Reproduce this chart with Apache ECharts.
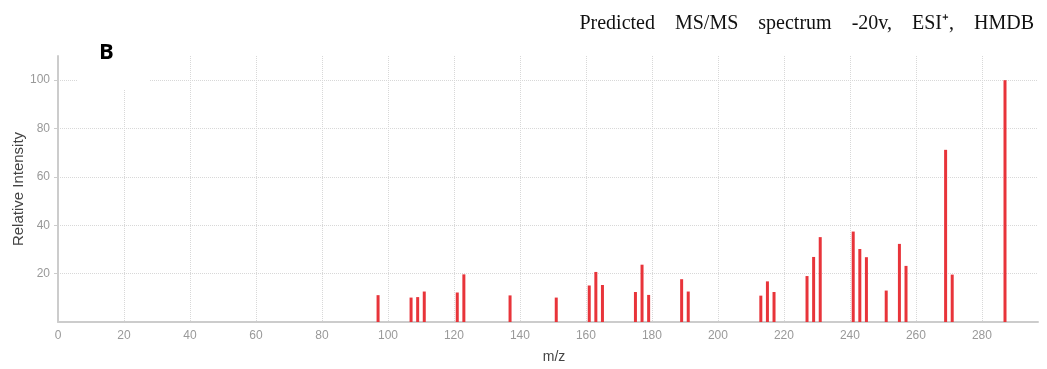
<!DOCTYPE html>
<html>
<head>
<meta charset="utf-8">
<script src="https://cdn.jsdelivr.net/npm/echarts@6/dist/echarts.min.js"></script>
<style>
html,body{margin:0;padding:0;background:#fff;}
#chart{width:1047px;height:369px;}
</style>
</head>
<body>
<div id="chart"></div>
<script>
const mz = [97, 107, 109, 111, 121, 123, 137, 151, 161, 163, 165, 175, 177, 179, 189, 191,
            213, 215, 217, 227, 229, 231, 241, 243, 245, 251, 255, 257, 269, 271, 287];
const intensity = [11.1, 10.1, 10.3, 12.6, 12.2, 19.7, 11.0, 10.1, 15.1, 20.7, 15.3, 12.4, 23.7, 11.2, 17.7, 12.6,
                   10.9, 16.8, 12.4, 19.0, 26.9, 35.1, 37.4, 30.2, 26.8, 13.0, 32.3, 23.2, 71.2, 19.6, 100];
const titleText = 'Predicted    MS/MS    spectrum    -20v,    ESI\u207A,    HMDB';
const panelLabel = 'B';
const xName = 'm/z';
const yName = 'Relative Intensity';

const chart = echarts.init(document.getElementById('chart'), null, {renderer: 'canvas'});
chart.setOption({
  animation: false,
  backgroundColor: '#fff',
  title: [{
    text: titleText,
    right: 8, top: 9,
    textStyle: {fontFamily: 'Liberation Serif', fontSize: 20, fontWeight: 'normal', color: '#111'}
  }],
  graphic: [
    {type: 'rect', z: 100, left: 78, top: 30, shape: {width: 72, height: 60}, style: {fill: '#fff'}},
    {type: 'text', z: 101, left: 99, top: 42, style: {text: panelLabel, font: 'bold 22px "Open Sans", "DejaVu Sans", sans-serif', fill: '#000'}}
  ],
  grid: {left: 58, right: 9, top: 56, bottom: 47, containLabel: false, outerBoundsMode: 'none'},
  xAxis: {
    type: 'value', min: 0, max: 297, interval: 20,
    name: xName, nameLocation: 'middle', nameGap: 28, nameMoveOverlap: false,
    nameTextStyle: {color: '#444', fontSize: 14, fontFamily: 'Liberation Sans', padding: [0, 0, 0, 12]},
    axisLine: {show: true, lineStyle: {color: '#ccc', width: 2}},
    axisTick: {show: false},
    axisLabel: {color: '#999', fontSize: 12, fontFamily: 'Liberation Sans', margin: 8, showMaxLabel: false},
    splitLine: {show: true, showMinLine: false, showMaxLine: false, lineStyle: {color: '#d8d8d8', type: 'dotted', width: 1}}
  },
  yAxis: {
    type: 'value', min: 0, max: 110, interval: 20,
    name: yName, nameLocation: 'middle', nameGap: 32, nameMoveOverlap: false,
    nameTextStyle: {color: '#444', fontSize: 15, fontFamily: 'Liberation Sans'},
    axisLine: {show: true, lineStyle: {color: '#ccc', width: 2}},
    axisTick: {show: true, length: 4, lineStyle: {color: '#ccc'}},
    axisLabel: {color: '#999', fontSize: 12, fontFamily: 'Liberation Sans', margin: 8, showMinLabel: false, showMaxLabel: false},
    splitLine: {show: true, showMinLine: false, showMaxLine: false, lineStyle: {color: '#d8d8d8', type: 'dotted', width: 1}}
  },
  series: [{
    type: 'bar',
    barWidth: 3,
    data: mz.map((m, i) => [m, intensity[i]]),
    itemStyle: {color: '#e8343a'},
    emphasis: {disabled: true}
  }]
});
</script>
</body>
</html>
